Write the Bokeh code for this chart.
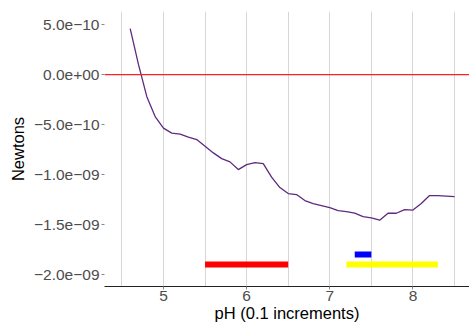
from bokeh.plotting import figure
from bokeh.models import FixedTicker, CustomJSTickFormatter, Range1d, Span
from bokeh.embed import file_html
from bokeh.resources import INLINE

ph = [4.6, 4.7, 4.8, 4.9, 5.0, 5.1, 5.2, 5.3, 5.4, 5.5,
      5.6, 5.7, 5.8, 5.9, 6.0, 6.1, 6.2, 6.3, 6.4, 6.5,
      6.6, 6.7, 6.8, 6.9, 7.0, 7.1, 7.2, 7.3, 7.4, 7.5,
      7.6, 7.7, 7.8, 7.9, 8.0, 8.1, 8.2, 8.3, 8.4, 8.5]
newtons = [4.6e-10, 1.0e-10, -2.2e-10, -4.2e-10, -5.35e-10, -5.85e-10, -5.95e-10, -6.25e-10, -6.5e-10, -7.17e-10,
           -7.83e-10, -8.4e-10, -8.73e-10, -9.5e-10, -9.0e-10, -8.8e-10, -8.9e-10, -1.026e-09, -1.13e-09, -1.19e-09,
           -1.2e-09, -1.26e-09, -1.29e-09, -1.31e-09, -1.33e-09, -1.36e-09, -1.37e-09, -1.385e-09, -1.42e-09, -1.434e-09,
           -1.457e-09, -1.387e-09, -1.387e-09, -1.35e-09, -1.355e-09, -1.29e-09, -1.21e-09, -1.21e-09, -1.215e-09, -1.22e-09]

bar_x0 = [5.5, 7.2, 7.3]
bar_x1 = [6.5, 8.3, 7.5]
bar_y = [-1.9e-09, -1.9e-09, -1.8e-09]
bar_colors = ["red", "yellow", "blue"]

y_ticks = [-2e-09, -1.5e-09, -1e-09, -5e-10, 0.0, 5e-10]
x_ticks = [5, 6, 7, 8]
x_minor = [4.5, 5.5, 6.5, 7.5, 8.5]

p = figure(width=469, height=324, output_backend="svg", toolbar_location=None,
           x_range=Range1d(4.291, 8.68), y_range=Range1d(-2.12e-09, 6.32e-10),
           min_border_top=11, min_border_right=0, min_border_left=104, min_border_bottom=38)
p.outline_line_color = None
p.background_fill_color = "white"

# grid
p.ygrid.grid_line_color = None
p.xgrid.ticker = FixedTicker(ticks=x_ticks, minor_ticks=x_minor)
p.xgrid.grid_line_color = "#d6d6d6"
p.xgrid.grid_line_width = 1
p.xgrid.minor_grid_line_color = "#d6d6d6"
p.xgrid.minor_grid_line_width = 1

# x axis
p.xaxis.ticker = FixedTicker(ticks=x_ticks, minor_ticks=x_minor)
p.xaxis.axis_line_color = "#222222"
p.xaxis.axis_line_width = 1
p.xaxis.major_tick_line_color = "#888888"
p.xaxis.major_tick_out = 3
p.xaxis.major_tick_in = 0
p.xaxis.minor_tick_line_color = None
p.xaxis.major_label_text_font = "Liberation Sans"
p.xaxis.major_label_text_font_size = "15.5px"
p.xaxis.major_label_text_color = "#4d4d4d"
p.xaxis.major_label_standoff = 0
p.xaxis.axis_label = "pH (0.1 increments)"
p.xaxis.axis_label_text_font = "Liberation Sans"
p.xaxis.axis_label_text_font_style = "normal"
p.xaxis.axis_label_text_font_size = "16.5px"
p.xaxis.axis_label_text_color = "black"
p.xaxis.axis_label_standoff = 0

# y axis
p.yaxis.ticker = FixedTicker(ticks=y_ticks)
p.yaxis.formatter = CustomJSTickFormatter(code="""
    if (tick == 0) { return "0.0e+00"; }
    const a = Math.abs(tick);
    let e = Math.floor(Math.log10(a) + 1e-9);
    let m = a / Math.pow(10, e);
    let s = m.toFixed(1) + "e" + (e < 0 ? "\u2212" : "+") + String(Math.abs(e)).padStart(2, "0");
    return (tick < 0 ? "\u2212" : "") + s;
""")
p.yaxis.axis_line_color = None
p.yaxis.major_tick_line_color = "#888888"
p.yaxis.major_tick_out = 3
p.yaxis.major_tick_in = 0
p.yaxis.minor_tick_line_color = None
p.yaxis.major_label_text_font = "Liberation Sans"
p.yaxis.major_label_text_font_size = "15.5px"
p.yaxis.major_label_text_color = "#4d4d4d"
p.yaxis.major_label_standoff = 2
p.yaxis.axis_label = "Newtons"
p.yaxis.axis_label_text_font = "Liberation Sans"
p.yaxis.axis_label_text_font_style = "normal"
p.yaxis.axis_label_text_font_size = "16.5px"
p.yaxis.axis_label_text_color = "black"
p.yaxis.axis_label_standoff = 4

# zero line
p.add_layout(Span(location=0, dimension="width", line_color="#ff2020", line_width=1.2))

# curve
p.line(ph, newtons, line_color="#5e2a7e", line_width=1.3)

# bars
p.segment(x0=bar_x0, y0=bar_y, x1=bar_x1, y1=bar_y, line_color=bar_colors, line_width=6)

open("out.html", "w").write(file_html(p, INLINE))
